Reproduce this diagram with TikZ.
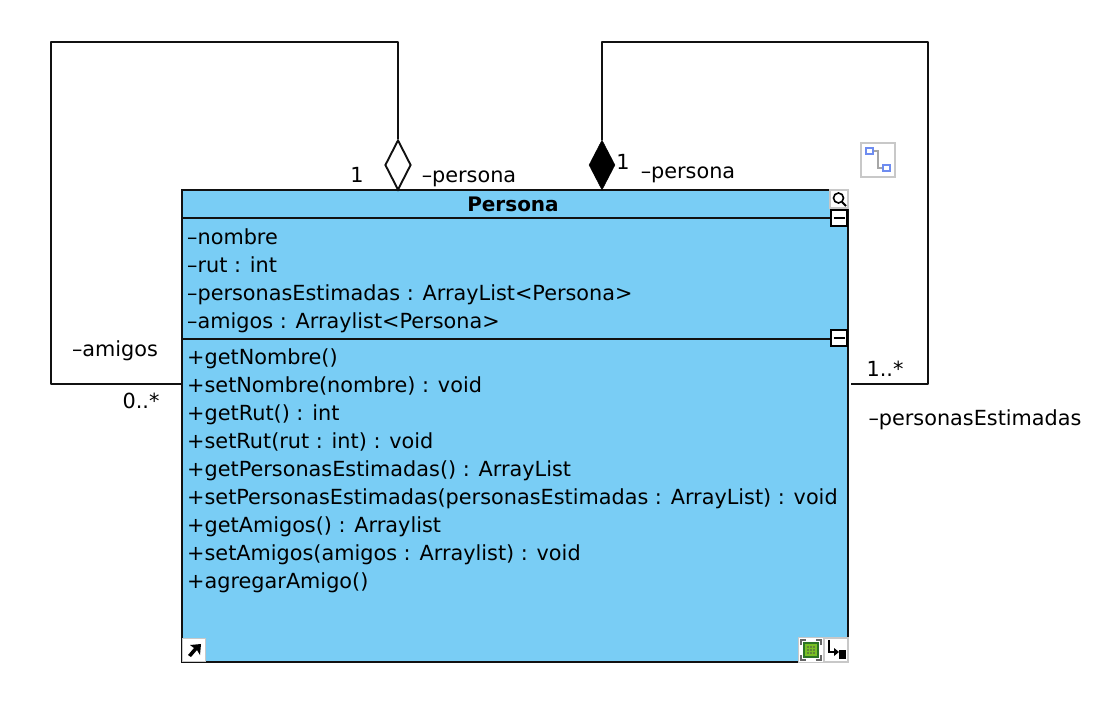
\documentclass[tikz,border=0pt]{standalone}
\usepackage{fontspec}
\setmainfont{DejaVu Sans}
\usepackage{tikz}
\usetikzlibrary{calc,shapes.geometric}
\definecolor{classbg}{HTML}{79CDF5}
\definecolor{linedark}{HTML}{111111}
\definecolor{iconedge}{HTML}{C8C8C8}
\definecolor{iconblue}{HTML}{6E8CF0}
\definecolor{icongreen}{HTML}{3FA535}
\tikzset{
  member/.style={anchor=base west,inner sep=0pt,font=\fontsize{20.8}{24}\selectfont},
  role/.style={anchor=base,inner sep=0pt,font=\fontsize{20.8}{24}\selectfont},
  assoc/.style={draw=linedark,line width=1.9pt,line join=round},
  toggle/.style={draw=black,line width=2.2pt,fill=white,minimum size=16pt,inner sep=0pt},
  iconbox/.style={draw=iconedge,line width=1.6pt,fill=white,inner sep=0pt},
}
\begin{document}
\begin{tikzpicture}[x=1pt,y=-1pt]
  \useasboundingbox (0,0) rectangle (1112,704);
  \node[draw=linedark,line width=1.9pt,fill=classbg,minimum width=666pt,minimum height=472pt,inner sep=0pt] (persona) at (515,426) {};
  \draw[assoc] (182,218) -- (848,218);
  \draw[assoc] (182,339) -- (848,339);
  \node[inner sep=0pt,anchor=base,font=\fontsize{20}{24}\selectfont\bfseries] (title) at (513,211) {Persona};
  % atributos
  \foreach \txt [count=\i] in {–nombre,–rut : int,–personasEstimadas : ArrayList<Persona>,–amigos : Arraylist<Persona>}
    \node[member] (attr\i) at (187,{244+28*(\i-1)}) {\txt};
  % metodos
  \foreach \txt [count=\i] in {+getNombre(),+setNombre(nombre) : void,+getRut() : int,+setRut(rut : int) : void,+getPersonasEstimadas() : ArrayList,+setPersonasEstimadas(personasEstimadas : ArrayList) : void,+getAmigos() : Arraylist,+setAmigos(amigos : Arraylist) : void,+agregarAmigo()}
    \node[member] (op\i) at (187,{364+28*(\i-1)}) {\txt};
  % asociaciones
  \node[diamond,aspect=0.52,draw=linedark,line width=1.9pt,fill=white,minimum width=26pt,minimum height=50pt,inner sep=0pt] (aggr) at (398,165) {};
  \node[diamond,aspect=0.52,draw=black,fill=black,minimum width=26pt,minimum height=50pt,inner sep=0pt] (comp) at (602,165) {};
  \coordinate (amigosEnd) at (182,384);
  \coordinate (amigosA) at (51,384);
  \coordinate (amigosB) at (51,42);
  \coordinate (amigosC) at (398,42);
  \coordinate (estimEnd) at (851,384);
  \coordinate (estimA) at (928,384);
  \coordinate (estimB) at (928,42);
  \coordinate (estimC) at (602,42);
  \draw[assoc] (amigosEnd) -- (amigosA) -- (amigosB) -- (amigosC) -- (aggr.north);
  \draw[assoc] (estimEnd) -- (estimA) -- (estimB) -- (estimC) -- (comp.north);
  % etiquetas
  \node[role] (lblA) at (357,182) {1};
  \node[role] (lblB) at (469,182) {–persona};
  \node[role] (lblC) at (623,169) {1};
  \node[role] (lblD) at (688,178) {–persona};
  \node[role] (lblE) at (115,356) {–amigos};
  \node[role] (lblF) at (141,408) {0..*};
  \node[role] (lblG) at (885,376) {1..*};
  \node[role] (lblH) at (975,425) {–personasEstimadas};
  % botones de la clase
  \node[iconbox,minimum size=18pt] (zoomBtn) at (839,199) {};
  \draw[black,line width=1.6pt] ($(zoomBtn)+(-0.5,-1)$) circle (5);
  \draw[black,line width=1.8pt] ($(zoomBtn)+(3,3)$) -- ($(zoomBtn)+(7,7)$);
  \node[toggle] (minusA) at (839,218) {};
  \draw[black,line width=2.4pt] ($(minusA)+(-5.5,0)$) -- ($(minusA)+(5.5,0)$);
  \node[toggle] (minusB) at (839,338) {};
  \draw[black,line width=2.4pt] ($(minusB)+(-5.5,0)$) -- ($(minusB)+(5.5,0)$);
  % iconos de abajo
  \node[iconbox,minimum size=23pt] (linkBtn) at (194,650) {};
  \fill[black] (190,645) -- (201,644) -- (200,655) -- (197,650) -- (191,657) -- (188,655) -- (194,648) -- cycle;
  \node[iconbox,minimum size=25pt] (fitBtn) at (811,650) {};
  \node[draw=icongreen!70!black,line width=1.2pt,fill=icongreen!70!yellow,minimum size=14pt,inner sep=0pt] (fitCore) at (811,650) {};
  \foreach \dx in {-3,0,3} \foreach \dy in {-3,0,3}
    \fill[black!70] ($(fitCore)+(\dx,\dy)$) circle (0.9);
  \foreach \sx/\sy in {-1/-1,1/-1,-1/1,1/1}
    \draw[black!60,line width=1.8pt] ($(fitBtn)+(10*\sx,5*\sy)$) -- ($(fitBtn)+(10*\sx,10*\sy)$) -- ($(fitBtn)+(5*\sx,10*\sy)$);
  \node[iconbox,minimum size=24pt] (portBtn) at (836,650) {};
  \draw[black,line width=1.6pt] (829,640) -- (829,652) -- (838,652);
  \fill[black] (834,648) -- (839,652) -- (834,656) -- cycle;
  \fill[black] (839,650) rectangle (846,659);
  % icono de la linea
  \node[iconbox,minimum size=34pt] (routeBtn) at (878,160) {};
  \draw[black!35,line width=2.4pt] (871,151) -- (878,151) -- (878,168) -- (885,168);
  \draw[iconblue,line width=1.5pt,fill=white] (866,148) rectangle (873,154);
  \draw[iconblue,line width=1.5pt,fill=white] (883,165) rectangle (890,171);
\end{tikzpicture}
\end{document}
